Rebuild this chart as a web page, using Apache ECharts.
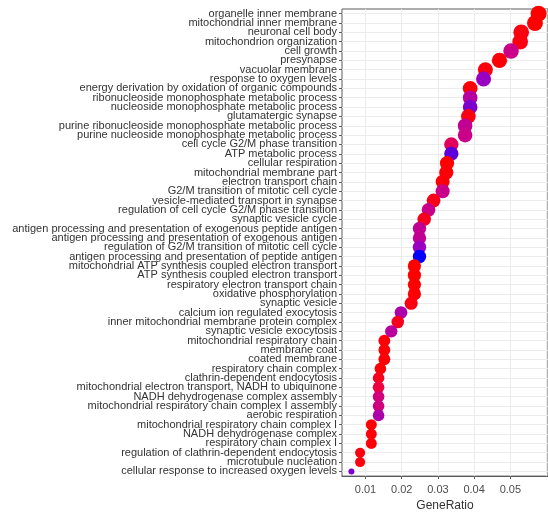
<!DOCTYPE html>
<html>
<head>
<meta charset="utf-8">
<script src="https://cdn.jsdelivr.net/npm/echarts@6/dist/echarts.min.js"></script>
<style>
  html, body { margin: 0; padding: 0; background: #ffffff; }
  #chart { width: 548px; height: 517px; }
</style>
</head>
<body>
<div id="chart"></div>
<script>
// GO enrichment terms, top to bottom
const terms = [
  'organelle inner membrane',
  'mitochondrial inner membrane',
  'neuronal cell body',
  'mitochondrion organization',
  'cell growth',
  'presynapse',
  'vacuolar membrane',
  'response to oxygen levels',
  'energy derivation by oxidation of organic compounds',
  'ribonucleoside monophosphate metabolic process',
  'nucleoside monophosphate metabolic process',
  'glutamatergic synapse',
  'purine ribonucleoside monophosphate metabolic process',
  'purine nucleoside monophosphate metabolic process',
  'cell cycle G2/M phase transition',
  'ATP metabolic process',
  'cellular respiration',
  'mitochondrial membrane part',
  'electron transport chain',
  'G2/M transition of mitotic cell cycle',
  'vesicle-mediated transport in synapse',
  'regulation of cell cycle G2/M phase transition',
  'synaptic vesicle cycle',
  'antigen processing and presentation of exogenous peptide antigen',
  'antigen processing and presentation of exogenous antigen',
  'regulation of G2/M transition of mitotic cell cycle',
  'antigen processing and presentation of peptide antigen',
  'mitochondrial ATP synthesis coupled electron transport',
  'ATP synthesis coupled electron transport',
  'respiratory electron transport chain',
  'oxidative phosphorylation',
  'synaptic vesicle',
  'calcium ion regulated exocytosis',
  'inner mitochondrial membrane protein complex',
  'synaptic vesicle exocytosis',
  'mitochondrial respiratory chain',
  'membrane coat',
  'coated membrane',
  'respiratory chain complex',
  'clathrin-dependent endocytosis',
  'mitochondrial electron transport, NADH to ubiquinone',
  'NADH dehydrogenase complex assembly',
  'mitochondrial respiratory chain complex I assembly',
  'aerobic respiration',
  'mitochondrial respiratory chain complex I',
  'NADH dehydrogenase complex',
  'respiratory chain complex I',
  'regulation of clathrin-dependent endocytosis',
  'microtubule nucleation',
  'cellular response to increased oxygen levels'
];

// Gene ratio for each term
const geneRatio = [
  0.0578, 0.0568, 0.0530, 0.0527, 0.0502, 0.0470, 0.0431, 0.0426,
  0.0389, 0.0389, 0.0389, 0.0384, 0.0375, 0.0375, 0.0337, 0.0337,
  0.0325, 0.0323, 0.0313, 0.0313, 0.0288, 0.0274, 0.0262, 0.0249,
  0.0249, 0.0249, 0.0249, 0.0235, 0.0235, 0.0235, 0.0235, 0.0226,
  0.0198, 0.0189, 0.0171, 0.0152, 0.0152, 0.0152, 0.0141, 0.0136,
  0.0136, 0.0136, 0.0136, 0.0136, 0.0116, 0.0116, 0.0116, 0.0085,
  0.0085, 0.0061
];

// Gene counts (dot size)
const counts = [
  46, 45, 42, 42, 40, 37, 34, 34,
  31, 31, 31, 30, 30, 30, 27, 27,
  26, 26, 25, 25, 23, 22, 21, 20,
  20, 20, 20, 19, 19, 19, 19, 18,
  16, 15, 14, 12, 12, 12, 11, 11,
  11, 11, 11, 11, 9, 9, 9, 7,
  7, 5
];

// Adjusted p-values (dot colour)
const pAdjust = [
  0.0002, 0.0001, 0.002, 0.002, 0.020, 0.001, 0.002, 0.030,
  0.001, 0.024, 0.032, 0.002, 0.022, 0.020, 0.012, 0.034,
  0.0003, 0.001, 0.001, 0.020, 0.003, 0.020, 0.004, 0.022,
  0.022, 0.030, 0.040, 0.0002, 0.0002, 0.0003, 0.0005, 0.002,
  0.026, 0.004, 0.024, 0.001, 0.001, 0.001, 0.001, 0.004,
  0.008, 0.018, 0.018, 0.026, 0.001, 0.001, 0.001, 0.002,
  0.002, 0.032
];

// x-axis tick labels and the lighter in-between grid positions
const xTicks = [0.01, 0.02, 0.03, 0.04, 0.05];
const xMinorGrid = [0.005, 0.015, 0.025, 0.035, 0.045, 0.055];

const FONT = "'Liberation Sans', Arial, sans-serif";
const X_MIN = 0.0035, X_MAX = 0.0604;

const cMin = Math.min(...counts), cMax = Math.max(...counts);
const pMin = Math.min(...pAdjust), pMax = Math.max(...pAdjust);
// size scale: small dot for the lowest count, large dot for the highest
const dotSize = c => 6 + 10 * Math.pow((c - cMin) / (cMax - cMin), 0.3);

const points = terms.map((t, i) => [geneRatio[i], t, counts[i], pAdjust[i]]);
const gridX = xTicks.concat(xMinorGrid).sort((a, b) => a - b);

const chart = echarts.init(document.getElementById('chart'), null, { renderer: 'canvas' });

chart.setOption({
  animation: false,
  backgroundColor: '#ffffff',
  grid: {
    left: 342, right: -1, top: 9, bottom: 32,
    show: true, borderColor: '#5a5a5a', borderWidth: 1, backgroundColor: '#ffffff'
  },
  xAxis: {
    type: 'value', min: X_MIN, max: X_MAX,
    axisLine: { show: true, onZero: false, lineStyle: { color: '#5a5a5a' } },
    axisTick: { show: true, length: 3, customValues: xTicks, lineStyle: { color: '#5a5a5a' } },
    axisLabel: {
      show: true, margin: 8, color: '#4d4d4d', fontFamily: FONT, fontSize: 11,
      customValues: xTicks,
      formatter: v => v.toFixed(2)
    },
    splitLine: { show: false },
    name: 'GeneRatio', nameLocation: 'middle', nameGap: 22,
    nameTextStyle: { color: '#333333', fontFamily: FONT, fontSize: 12 }
  },
  yAxis: {
    type: 'category', data: terms, inverse: true, boundaryGap: true,
    axisLine: { show: false },
    axisTick: { show: true, alignWithLabel: true, length: 3, lineStyle: { color: '#5a5a5a' } },
    axisLabel: { color: '#333333', fontFamily: FONT, fontSize: 11, margin: 5, interval: 0 },
    splitLine: { show: false }
  },
  visualMap: {
    show: false, type: 'continuous', dimension: 3, seriesIndex: 1,
    min: pMin, max: pMax,
    inRange: { color: ['#ff0000', '#e80050', '#ca0088', '#9a00c2', '#0000ff'] }
  },
  series: [
    {
      // panel grid: vertical lines at the x breaks, horizontal lines through each term
      type: 'line', data: [], silent: true, z: 1,
      markLine: {
        silent: true, symbol: 'none', label: { show: false }, z: 1,
        lineStyle: { color: '#ececec', width: 1, type: 'solid' },
        animation: false,
        data: gridX.map(v => ({ xAxis: v })).concat(terms.map(t => ({ yAxis: t })))
      }
    },
    {
      type: 'scatter', z: 3,
      data: points,
      symbol: 'circle',
      symbolSize: v => dotSize(v[2]),
      itemStyle: { opacity: 1 }
    }
  ]
});
</script>
</body>
</html>
